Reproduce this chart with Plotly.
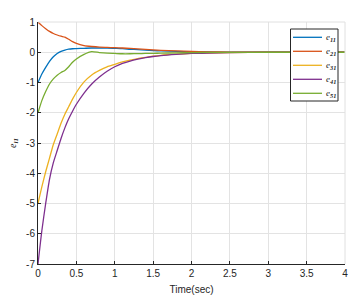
import plotly.graph_objects as go

t = [0, 0.05, 0.1, 0.15, 0.2, 0.25, 0.3, 0.35, 0.4, 0.45, 0.5, 0.6, 0.7, 0.8, 0.9, 1.0,
     1.1, 1.2, 1.3, 1.4, 1.5, 1.6, 1.8, 2.0, 2.2, 2.5, 3.0, 3.5, 4.0]

e11 = [-1, -0.72, -0.5, -0.3, -0.15, -0.04, 0.03, 0.07, 0.1, 0.115, 0.12, 0.13, 0.14, 0.14, 0.14, 0.13,
       0.12, 0.1, 0.085, 0.07, 0.055, 0.045, 0.028, 0.015, 0.008, 0.002, 0, 0, 0]
e21 = [1, 0.88, 0.78, 0.69, 0.62, 0.57, 0.53, 0.5, 0.43, 0.35, 0.29, 0.22, 0.19, 0.17, 0.16, 0.15,
       0.14, 0.125, 0.11, 0.095, 0.08, 0.065, 0.045, 0.03, 0.015, 0.005, 0, 0, 0]
e31 = [-5, -4.45, -3.95, -3.5, -3.05, -2.7, -2.35, -2.05, -1.8, -1.55, -1.33, -0.98, -0.75, -0.6, -0.48, -0.4,
       -0.32, -0.26, -0.21, -0.17, -0.13, -0.1, -0.065, -0.04, -0.025, -0.01, 0, 0, 0]
e41 = [-7, -5.9, -5.0, -4.2, -3.65, -3.25, -2.85, -2.5, -2.2, -1.95, -1.72, -1.35, -1.05, -0.82, -0.63, -0.48,
       -0.37, -0.29, -0.23, -0.18, -0.14, -0.11, -0.07, -0.04, -0.025, -0.01, 0, 0, 0]
e51 = [-2, -1.6, -1.3, -1.05, -0.88, -0.76, -0.67, -0.6, -0.48, -0.33, -0.22, -0.07, 0.02, -0.01, -0.03, -0.04,
       -0.05, -0.05, -0.045, -0.04, -0.035, -0.03, -0.02, -0.012, -0.006, -0.002, 0, 0, 0]

names = ["<i>e</i><sub><i><b>11</b></i></sub>", "<i>e</i><sub><i><b>21</b></i></sub>",
         "<i>e</i><sub><i><b>31</b></i></sub>", "<i>e</i><sub><i><b>41</b></i></sub>",
         "<i>e</i><sub><i><b>51</b></i></sub>"]
colors = ["#0072BD", "#D95319", "#EDB120", "#7E2F8E", "#77AC30"]
series = [e11, e21, e31, e41, e51]

xticks = [0, 0.5, 1, 1.5, 2, 2.5, 3, 3.5, 4]
yticks = [1, 0, -1, -2, -3, -4, -5, -6, -7]

# plot area in page pixels (page has 8px body margin)
PL, PR, PT, PB = 38, 345, 22, 264
def px(x):
    return (x - PL) / (PR - PL)
def py(y):
    return (PB - y) / (PB - PT)

fig = go.Figure()
for y, n, c in zip(series, names, colors):
    fig.add_trace(go.Scatter(x=t, y=y, mode="lines", name=n, showlegend=False,
                             line=dict(color=c, width=1.3, shape="spline", smoothing=0.6)))

axfont = dict(family="Liberation Sans, Arial, sans-serif", size=10, color="#262626")
serif = "Liberation Serif, Times New Roman, serif"

W, H = 351, 293
fig.update_layout(
    width=W, height=H,
    margin=dict(l=PL - 8, r=W - (PR - 8), t=PT - 8, b=H - (PB - 8)),
    paper_bgcolor="white", plot_bgcolor="white",
    showlegend=False,
    xaxis=dict(range=[0, 4], tickvals=xticks, ticktext=[str(v) for v in xticks],
               ticks="inside", ticklen=3, tickcolor="#262626", automargin=False,
               showline=True, linecolor="#262626", linewidth=1,
               showgrid=True, gridcolor="#E3E3E3", gridwidth=1, zeroline=False,
               tickfont=axfont,
               title=dict(text="Time(sec)", font=axfont, standoff=7)),
    yaxis=dict(range=[-7, 1], tickvals=yticks, ticktext=[str(v) for v in yticks],
               ticks="inside", ticklen=3, tickcolor="#262626", automargin=False,
               showline=True, linecolor="#262626", linewidth=1,
               showgrid=True, gridcolor="#E3E3E3", gridwidth=1, zeroline=False,
               tickfont=axfont),
)
fig.add_annotation(text="<i>e</i><sub><i><b>i1</b></i></sub>", xref="paper", yref="paper",
                   x=px(13), y=0.5, xanchor="center", yanchor="middle", textangle=-90,
                   showarrow=False, font=dict(family=serif, size=10, color="#262626"))

fig.add_shape(type="line", xref="paper", yref="paper", x0=0, x1=1, y0=1, y1=1,
              line=dict(color="#E0E0E0", width=1))
fig.add_shape(type="line", xref="paper", yref="paper", x0=1, x1=1, y0=0, y1=1,
              line=dict(color="#E0E0E0", width=1))

# legend box
fig.add_shape(type="rect", xref="paper", yref="paper", x0=px(290.5), x1=px(338),
              y0=py(101), y1=py(29), line=dict(color="#262626", width=1), fillcolor="white")
for i, (n, c) in enumerate(zip(names, colors)):
    yy = py(37.3 + 14 * i)
    fig.add_shape(type="line", xref="paper", yref="paper", x0=px(293), x1=px(322),
                  y0=yy, y1=yy, line=dict(color=c, width=1.3))
    fig.add_annotation(text=n, xref="paper", yref="paper", x=px(323.5), y=yy,
                       xanchor="left", yanchor="middle", showarrow=False,
                       font=dict(family=serif, size=9, color="#262626"))

fig.write_html("out.html")
